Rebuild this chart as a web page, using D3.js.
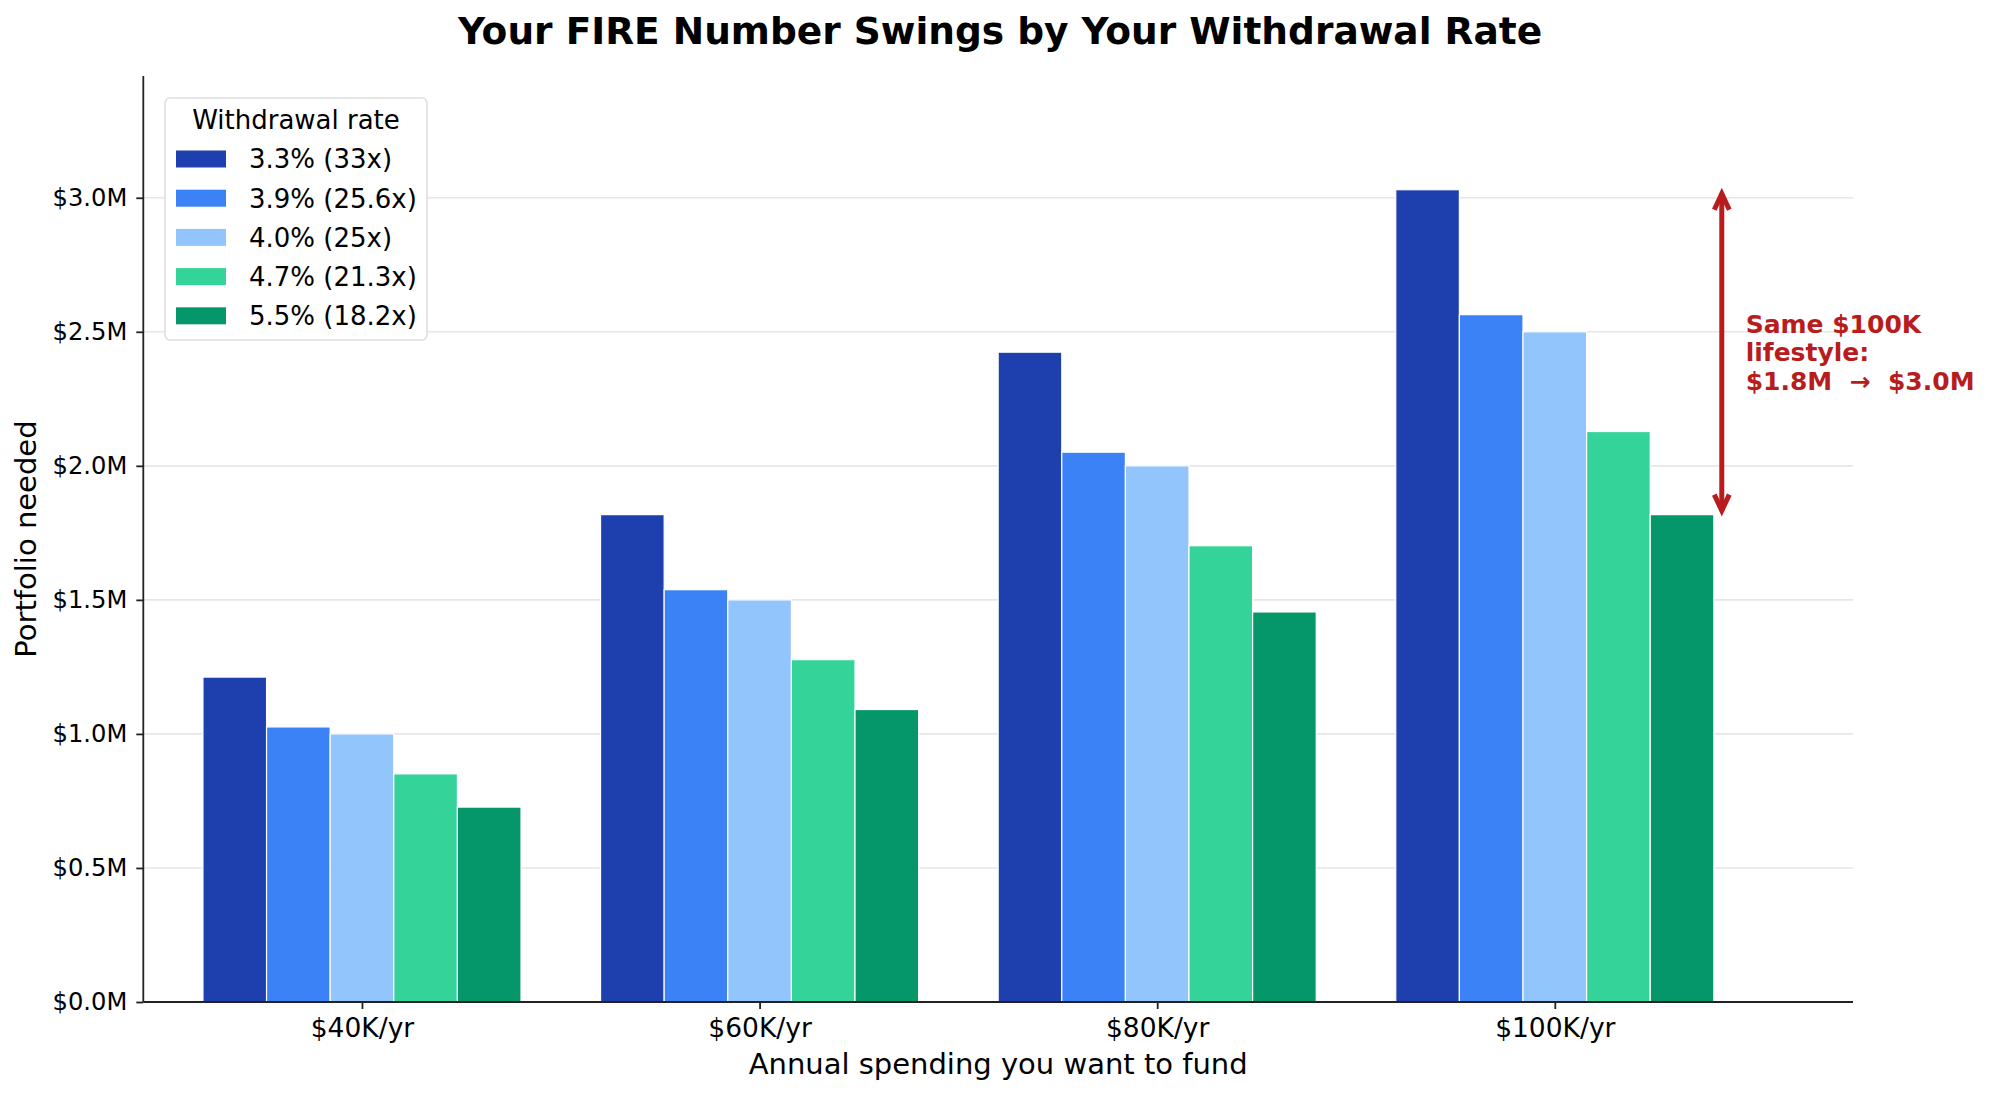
<!DOCTYPE html>
<html>
<head>
<meta charset="utf-8">
<script src="https://cdn.jsdelivr.net/npm/d3@7"></script>
<style>
  html, body { margin: 0; padding: 0; background: #fff; }
  svg { display: block; font-family: "DejaVu Sans", sans-serif; }
  .axis path, .axis line { stroke: #222; stroke-width: 1.8; }
  .axis text { fill: #000; }
</style>
</head>
<body>
<svg id="chart"></svg>
<script>
  /* ── Data ──────────────────────────────────────────────────────────────────── */
  const categories = ['$40K/yr', '$60K/yr', '$80K/yr', '$100K/yr'];
  const rateLabels = ['3.3% (33x)', '3.9% (25.6x)', '4.0% (25x)', '4.7% (21.3x)', '5.5% (18.2x)'];
  const rateColors = ['#1e40af', '#3b82f6', '#93c5fd', '#34d399', '#059669'];

  // portfolio needed, $M, one array per withdrawal rate
  const rate33 = [1.212, 1.818, 2.424, 3.030];
  const rate39 = [1.026, 1.538, 2.051, 2.564];
  const rate40 = [1.000, 1.500, 2.000, 2.500];
  const rate47 = [0.851, 1.277, 1.702, 2.128];
  const rate55 = [0.727, 1.091, 1.455, 1.818];
  const series = [rate33, rate39, rate40, rate47, rate55];

  const yTicks = [0, 0.5, 1.0, 1.5, 2.0, 2.5, 3.0];

  const noteLines = ['Same $100K', 'lifestyle:', '$1.8M  \u2192  $3.0M'];
  const noteFrom = 1.818, noteTo = 3.030;

  /* ── Layout ────────────────────────────────────────────────────────────────── */
  const W = 1989, H = 1094;
  const PL = 143.3, PR = 1853, PT = 76, PB = 1002;
  const BAR = 0.16;
  const red = '#b91c1c';
  const FONT = '"DejaVu Sans", sans-serif';

  const svg = d3.select('#chart').attr('width', W).attr('height', H);

  const x = d3.scaleLinear().domain([-0.55, 3.75]).range([PL, PR]);
  const y = d3.scaleLinear().domain([0, 3.03 * 1.14]).range([PB, PT]);

  /* Grid */
  svg.append('g').selectAll('line')
    .data(yTicks.filter(d => d > 0))
    .join('line')
    .attr('x1', PL).attr('x2', PR)
    .attr('y1', d => y(d)).attr('y2', d => y(d))
    .attr('stroke', '#e6e6e6').attr('stroke-width', 1.6);

  /* Bars */
  const barsG = svg.append('g');
  series.forEach((vals, j) => {
    barsG.append('g').selectAll('rect')
      .data(vals)
      .join('rect')
      .attr('x', (d, i) => x(i + (j - 2) * BAR - BAR / 2))
      .attr('width', x(BAR) - x(0))
      .attr('y', d => y(d))
      .attr('height', d => y(0) - y(d))
      .attr('fill', rateColors[j])
      .attr('stroke', '#ffffff').attr('stroke-width', 1.2);
  });

  /* Axes */
  const yAxis = svg.append('g').attr('class', 'axis')
    .attr('transform', `translate(${PL},0)`)
    .call(d3.axisLeft(y).tickValues(yTicks).tickSize(7).tickPadding(9)
      .tickFormat(d => `$${d.toFixed(1)}M`))
    .attr('font-family', FONT).attr('font-size', 24.2);
  yAxis.select('.domain').attr('d', `M0,${PB}V${PT}`);

  const xAxis = svg.append('g').attr('class', 'axis')
    .attr('transform', `translate(0,${PB})`)
    .call(d3.axisBottom(x).tickValues([0, 1, 2, 3]).tickSize(7).tickPadding(9)
      .tickFormat(i => categories[i]))
    .attr('font-family', FONT).attr('font-size', 26.5);
  xAxis.select('.domain').attr('d', `M${PL},0H${PR}`);

  /* Axis labels & title */
  svg.append('text')
    .attr('x', (PL + PR) / 2).attr('y', 1074)
    .attr('text-anchor', 'middle').attr('font-size', 29)
    .text('Annual spending you want to fund');

  svg.append('text')
    .attr('transform', `translate(36,${(PT + PB) / 2}) rotate(-90)`)
    .attr('text-anchor', 'middle').attr('font-size', 29)
    .text('Portfolio needed');

  svg.append('text')
    .attr('x', 1000).attr('y', 44)
    .attr('text-anchor', 'middle').attr('font-size', 37.5).attr('font-weight', 'bold')
    .text('Your FIRE Number Swings by Your Withdrawal Rate');

  /* Legend */
  const lg = svg.append('g').attr('transform', 'translate(165,98)');
  lg.append('rect')
    .attr('width', 262).attr('height', 242).attr('rx', 5)
    .attr('fill', '#fff').attr('fill-opacity', 0.9)
    .attr('stroke', '#dddddd').attr('stroke-width', 1.5);
  lg.append('text')
    .attr('x', 131).attr('y', 31)
    .attr('text-anchor', 'middle').attr('font-size', 26)
    .text('Withdrawal rate');
  const items = lg.selectAll('g.item')
    .data(rateLabels)
    .join('g').attr('class', 'item')
    .attr('transform', (d, i) => `translate(0,${61 + i * 39.2})`);
  items.append('rect')
    .attr('x', 11).attr('y', -8.5).attr('width', 50).attr('height', 17)
    .attr('fill', (d, i) => rateColors[i]);
  items.append('text')
    .attr('x', 84).attr('dy', '0.36em').attr('font-size', 26)
    .text(d => d);

  /* Annotation arrow */
  const ax = x(3.42);
  const yTop = y(noteTo) + 4, yBot = y(noteFrom) - 4;
  const hw = 7.5, hl = 16;
  const ann = svg.append('g')
    .attr('stroke', red).attr('stroke-width', 5).attr('fill', 'none')
    .attr('stroke-linejoin', 'miter');
  ann.append('path').attr('d', `M${ax},${yTop}V${yBot}`);
  ann.append('path').attr('d', `M${ax - hw},${yTop + hl}L${ax},${yTop}L${ax + hw},${yTop + hl}`);
  ann.append('path').attr('d', `M${ax - hw},${yBot - hl}L${ax},${yBot}L${ax + hw},${yBot - hl}`);

  const midY = y((noteFrom + noteTo) / 2);
  svg.append('g').selectAll('text')
    .data(noteLines)
    .join('text')
    .attr('x', x(3.48))
    .attr('y', (d, i) => midY + (i - 1) * 28.5)
    .attr('dy', '0.36em')
    .attr('fill', red).attr('font-size', 25).attr('font-weight', 'bold')
    .attr('xml:space', 'preserve').style('white-space', 'pre')
    .text(d => d);
</script>
</body>
</html>
